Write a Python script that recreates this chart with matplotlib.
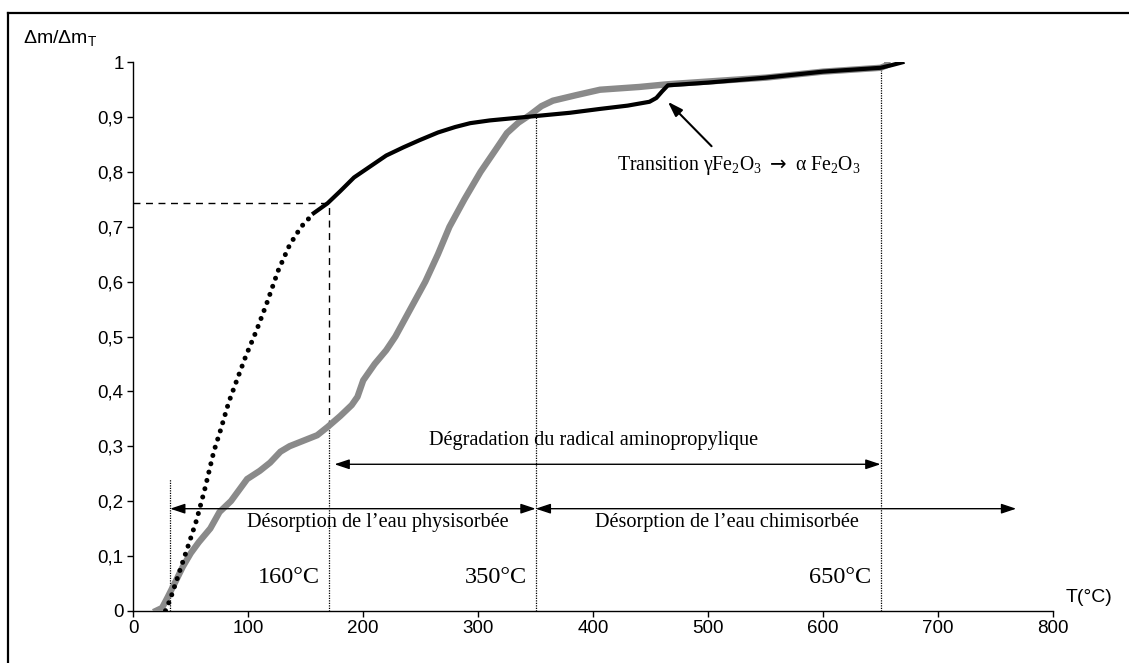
import matplotlib
matplotlib.use("Agg")
import matplotlib.pyplot as plt
from matplotlib.lines import Line2D

# ---------------- data ----------------
black_T = [28, 32, 40, 48, 55, 62, 70, 76, 83, 90, 98, 107, 116, 126, 136, 146, 157,
           169, 180, 192, 206, 220, 235, 249, 265, 280, 293, 310, 330, 350, 380, 406,
           430, 449, 455, 460, 465, 500, 550, 600, 650, 660, 669]
black_y = [0.0, 0.02, 0.07, 0.12, 0.165, 0.22, 0.29, 0.33, 0.38, 0.42, 0.465, 0.51,
           0.56, 0.62, 0.667, 0.70, 0.725, 0.743, 0.765, 0.79, 0.81, 0.83, 0.845,
           0.858, 0.872, 0.882, 0.889, 0.894, 0.898, 0.902, 0.908, 0.915, 0.921,
           0.928, 0.935, 0.947, 0.958, 0.963, 0.972, 0.983, 0.99, 0.995, 1.0]

gray_T = [20, 25, 30, 36, 43, 50, 57, 67, 75, 85, 92, 99, 110, 119, 128, 136, 148,
          160, 169, 180, 190, 195, 200, 210, 220, 228, 241, 254, 265, 275, 288, 302,
          315, 325, 335, 345, 355, 365, 385, 406, 440, 465, 500, 550, 600, 650, 656, 656]
gray_y = [0.0, 0.005, 0.025, 0.05, 0.08, 0.105, 0.125, 0.15, 0.18, 0.20, 0.22, 0.24,
          0.255, 0.27, 0.29, 0.30, 0.31, 0.32, 0.335, 0.355, 0.375, 0.39, 0.42, 0.45,
          0.475, 0.50, 0.55, 0.60, 0.65, 0.70, 0.75, 0.80, 0.84, 0.871, 0.89, 0.904,
          0.92, 0.93, 0.94, 0.95, 0.955, 0.96, 0.965, 0.972, 0.983, 0.99, 0.995, 1.0]

x_ticks = [0, 100, 200, 300, 400, 500, 600, 700, 800]
y_ticks = [0, 0.1, 0.2, 0.3, 0.4, 0.5, 0.6, 0.7, 0.8, 0.9, 1.0]
y_tick_labels = ["0", "0,1", "0,2", "0,3", "0,4", "0,5", "0,6", "0,7", "0,8", "0,9", "1"]

temp_labels = ["160°C", "350°C", "650°C"]
temp_lines = [170, 350, 650]
temp_tops = [0.335, 0.902, 0.99]
onset_T, onset_top = 32, 0.24
ref_T, ref_y = 170, 0.743

# ---------------- figure ----------------
fig = plt.figure(figsize=(11.29, 6.63), dpi=100)
W, H = 1129, 663
ax = fig.add_axes([133.3 / W, 1 - 610.7 / H, (1053 - 133.3) / W, (610.7 - 62.3) / H])

# outer frame
fig.add_artist(Line2D([8 / W, 8 / W], [0, 1 - 13 / H], color="black", lw=1.6,
                      transform=fig.transFigure))
fig.add_artist(Line2D([8 / W, 1.0], [1 - 13 / H, 1 - 13 / H], color="black", lw=1.6,
                      transform=fig.transFigure))

# curves
split = 16
ax.plot(gray_T, gray_y, color="#8a8a8a", lw=4.6, solid_joinstyle="miter", zorder=3)
ax.plot(black_T[:split + 1], black_y[:split + 1], color="black", lw=3.6,
        linestyle=(0, (0.01, 1.7)), dash_capstyle="round", zorder=4)
ax.plot(black_T[split:], black_y[split:], color="black", lw=3.0, zorder=4)

# reference lines
ax.plot([0, ref_T], [ref_y, ref_y], color="black", lw=1.0, ls=(0, (5, 4)))
ax.plot([ref_T, ref_T], [temp_tops[0], ref_y], color="black", lw=1.0, ls=(0, (5, 4)))
for t, top in zip(temp_lines, temp_tops):
    ax.plot([t, t], [0, top], color="black", lw=0.9, ls=(0, (1, 1)))
ax.plot([onset_T, onset_T], [0, onset_top], color="black", lw=0.9, ls=(0, (1, 1)))

serif = ["Liberation Serif", "DejaVu Serif"]
arrow_kw = dict(arrowstyle="<|-|>,head_length=0.9,head_width=0.3", color="black",
                lw=1.0, shrinkA=0, shrinkB=0)

# double arrows
ax.annotate("", xy=(175, 0.267), xytext=(650, 0.267), arrowprops=arrow_kw)
ax.annotate("", xy=(32, 0.186), xytext=(350, 0.186), arrowprops=arrow_kw)
ax.annotate("", xy=(350, 0.186), xytext=(768, 0.186), arrowprops=arrow_kw)

ax.text(400, 0.31, "Dégradation du radical aminopropylique", family=serif,
        fontsize=14.6, ha="center", va="center")
ax.text(99, 0.16, "Désorption de l’eau physisorbée", family=serif,
        fontsize=14.6, ha="left", va="center")
ax.text(402, 0.16, "Désorption de l’eau chimisorbée", family=serif,
        fontsize=14.6, ha="left", va="center")

for lab, t in zip(temp_labels, temp_lines):
    ax.text(t - 8, 0.06, lab, family=serif, fontsize=17.5, ha="right", va="center")

# transition annotation
ax.annotate("", xy=(465, 0.928), xytext=(503, 0.847),
            arrowprops=dict(arrowstyle="-|>,head_length=0.9,head_width=0.3",
                            color="black", lw=1.5, shrinkA=0, shrinkB=0))
ax.text(420.5, 0.812,
        "Transition γFe$_\\mathregular{2}$O$_\\mathregular{3}$ $\\rightarrow$ α Fe$_\\mathregular{2}$O$_\\mathregular{3}$",
        family=serif, fontsize=14.2, ha="left", va="center")

# axes styling
ax.set_xlim(0, 800)
ax.set_ylim(0, 1)
for s in ["top", "right"]:
    ax.spines[s].set_visible(False)
for s in ["left", "bottom"]:
    ax.spines[s].set_linewidth(1.0)
ax.set_xticks(x_ticks)
ax.set_xticklabels([str(v) for v in x_ticks])
ax.set_yticks(y_ticks)
ax.set_yticklabels(y_tick_labels)
ax.tick_params(direction="out", length=4, width=1.0, labelsize=13.5, pad=3)
for lab in ax.get_xticklabels() + ax.get_yticklabels():
    lab.set_family("Liberation Sans")

fig.text(23 / W, 1 - 38 / H, "$\\mathregular{\\Delta m/\\Delta m_T}$",
         family="Liberation Sans", fontsize=14, ha="left", va="center")
fig.text(1066 / W, 1 - 598 / H, "T(°C)", family="Liberation Sans", fontsize=14,
         ha="left", va="center")

fig.savefig("out.png", dpi=100)
